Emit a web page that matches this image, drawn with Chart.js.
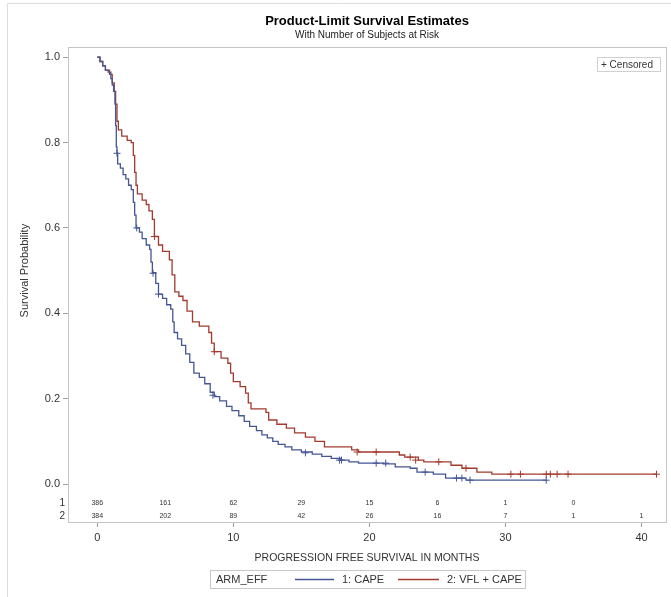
<!DOCTYPE html>
<html>
<head>
<meta charset="utf-8">
<script src="https://cdn.jsdelivr.net/npm/chart.js@4.4.1/dist/chart.umd.min.js"></script>
<style>
    html, body { margin: 0; padding: 0; background: #ffffff; }
    #chart { display: block; }
</style>
</head>
<body>
<canvas id="chart" width="671" height="597"></canvas>
<script>

// Kaplan-Meier Steps [months, survival]
const capeSteps = [
    [0, 1.0], [0.2, 0.99], [0.4, 0.98], [0.6, 0.97], [0.8, 0.965], [1.0, 0.95], [1.1, 0.935], [1.2, 0.92],
    [1.3, 0.89], [1.35, 0.84], [1.4, 0.79], [1.45, 0.775], [1.5, 0.75], [1.7, 0.74], [1.9, 0.725], [2.1, 0.715],
    [2.3, 0.70], [2.5, 0.69], [2.65, 0.66], [2.75, 0.63], [2.85, 0.60], [3.1, 0.59], [3.3, 0.575], [3.6, 0.56],
    [3.85, 0.55], [3.95, 0.52], [4.05, 0.495], [4.3, 0.47], [4.5, 0.445], [4.8, 0.435], [5.1, 0.42], [5.4, 0.41],
    [5.55, 0.38], [5.65, 0.355], [5.9, 0.34], [6.2, 0.325], [6.5, 0.305], [6.8, 0.285], [7.1, 0.26], [7.5, 0.25],
    [7.9, 0.235], [8.3, 0.215], [8.6, 0.205], [9.0, 0.195], [9.5, 0.182], [9.9, 0.172], [10.4, 0.16], [10.8, 0.147],
    [11.2, 0.135], [11.7, 0.125], [12.1, 0.115], [12.5, 0.108], [12.9, 0.10], [13.3, 0.093], [13.8, 0.087], [14.3, 0.08],
    [15.0, 0.075], [15.8, 0.07], [16.5, 0.065], [17.2, 0.06], [17.9, 0.056], [18.5, 0.052], [19.2, 0.049], [21.0, 0.047],
    [21.9, 0.04], [23.0, 0.037], [23.5, 0.028], [24.7, 0.023], [25.6, 0.014], [27.1, 0.009], [33.0, 0.009]
];

const vflSteps = [
    [0, 1.0], [0.2, 0.99], [0.4, 0.98], [0.6, 0.97], [0.9, 0.96], [1.1, 0.94], [1.25, 0.92], [1.35, 0.89],
    [1.45, 0.85], [1.55, 0.83], [1.8, 0.815], [2.2, 0.805], [2.5, 0.80], [2.65, 0.77], [2.75, 0.73], [2.85, 0.70],
    [2.95, 0.68], [3.3, 0.665], [3.6, 0.655], [3.8, 0.64], [4.05, 0.62], [4.2, 0.58], [4.5, 0.56], [4.8, 0.545],
    [5.3, 0.525], [5.5, 0.49], [5.7, 0.45], [6.0, 0.44], [6.3, 0.43], [6.6, 0.405], [7.0, 0.38], [7.5, 0.37],
    [8.2, 0.355], [8.4, 0.33], [8.6, 0.31], [9.1, 0.295], [9.6, 0.283], [9.8, 0.26], [10.0, 0.24], [10.5, 0.228],
    [10.9, 0.213], [11.1, 0.19], [11.3, 0.176], [12.4, 0.168], [12.6, 0.15], [13.2, 0.14], [13.9, 0.131], [14.5, 0.12],
    [15.3, 0.11], [16.0, 0.10], [16.7, 0.087], [18.7, 0.08], [19.2, 0.075], [22.2, 0.068], [22.6, 0.063], [23.6, 0.056],
    [24.0, 0.052], [26.0, 0.044], [26.8, 0.037], [27.9, 0.028], [29.0, 0.023], [41.1, 0.023]
];

// Censored Marks [months, survival]
const capeCensored = [
    [1.45, 0.775], [2.9, 0.60], [4.1, 0.494], [4.5, 0.445], [8.5, 0.208], [15.3, 0.073], [17.8, 0.056],
    [17.95, 0.056], [20.5, 0.049], [21.2, 0.049], [24.1, 0.028], [26.4, 0.014], [26.8, 0.014], [27.4, 0.009], [33.0, 0.009]
];

const vflCensored = [
    [4.2, 0.58], [8.6, 0.31], [19.1, 0.075], [20.5, 0.075], [23.0, 0.063], [23.4, 0.056], [25.1, 0.052],
    [27.1, 0.037], [30.4, 0.023], [31.1, 0.023], [33.0, 0.023], [33.3, 0.023], [33.8, 0.023], [34.6, 0.023], [41.1, 0.023]
];

// Subjects At Risk
const atRiskTimes = [0, 5, 10, 15, 20, 25, 30, 35, 40];
const atRiskCape = [386, 161, 62, 29, 15, 6, 1, 0, null];
const atRiskVfl = [384, 202, 89, 42, 26, 16, 7, 1, 1];

// Ticks And Labels
const xTicks = [0, 10, 20, 30, 40];
const yTicks = [0, 0.2, 0.4, 0.6, 0.8, 1.0];
const groupLabels = ['1: CAPE', '2: VFL + CAPE'];
const groupColors = ['#445694', '#A23A2E'];

// Font
const fontFamily = '"Liberation Sans", Arial, Helvetica, sans-serif';

// To Points
const toPoints = function (list) {
    return list.map(function (item) { return { x: item[0], y: item[1] }; });
};

// Decoration Plugin
const kmDecor = {
    id: 'kmDecor',

    beforeDatasetsDraw: function (chart) {
        const ctx = chart.ctx;
        const area = chart.chartArea;
        ctx.save();

        // Outer Frame
        ctx.strokeStyle = '#dcdcdc';
        ctx.lineWidth = 1;
        ctx.beginPath();
        ctx.moveTo(7.5, 597);
        ctx.lineTo(7.5, 3.5);
        ctx.lineTo(671, 3.5);
        ctx.stroke();

        // Plot Frame
        ctx.strokeStyle = '#c4c4c4';
        ctx.strokeRect(Math.round(area.left) + 0.5, Math.round(area.top) + 0.5,
            Math.round(area.right - area.left), Math.round(area.bottom - area.top));
        ctx.restore();
    },

    afterDraw: function (chart) {
        const ctx = chart.ctx;
        const area = chart.chartArea;
        const x = chart.scales.x;
        const y = chart.scales.y;
        const midX = (area.left + area.right) / 2;
        ctx.save();

        // Titles
        ctx.fillStyle = '#000000';
        ctx.textAlign = 'center';
        ctx.textBaseline = 'middle';
        ctx.font = 'bold 13px ' + fontFamily;
        ctx.fillText('Product-Limit Survival Estimates', midX, 21);
        ctx.font = '10px ' + fontFamily;
        ctx.fillStyle = '#222222';
        ctx.fillText('With Number of Subjects at Risk', midX, 35);

        // Y Title
        ctx.save();
        ctx.translate(25, y.getPixelForValue(0.5));
        ctx.rotate(-Math.PI / 2);
        ctx.font = '11px ' + fontFamily;
        ctx.fillStyle = '#333333';
        ctx.fillText('Survival Probability', 0, 0);
        ctx.restore();

        // At Risk Table
        const rows = [atRiskCape, atRiskVfl];
        const rowY = [y.getPixelForValue(-0.0445), y.getPixelForValue(-0.075)];
        for (let r = 0; r < rows.length; r++) {
            ctx.font = '10px ' + fontFamily;
            ctx.fillStyle = '#333333';
            ctx.textAlign = 'right';
            ctx.fillText(String(r + 1), area.left - 3, rowY[r]);
            ctx.font = '7px ' + fontFamily;
            ctx.textAlign = 'center';
            for (let i = 0; i < atRiskTimes.length; i++) {
                if (rows[r][i] === null) { continue; }
                ctx.fillText(String(rows[r][i]), x.getPixelForValue(atRiskTimes[i]), rowY[r]);
            }
        }

        // Censored Box
        ctx.strokeStyle = '#d0d0d0';
        ctx.strokeRect(597.5, 57.5, 63, 14);
        ctx.font = '10px ' + fontFamily;
        ctx.fillStyle = '#333333';
        ctx.textAlign = 'left';
        ctx.fillText('+ Censored', 601, 65);

        // Legend
        ctx.strokeStyle = '#c8c8c8';
        ctx.strokeRect(210.5, 570.5, 315, 18);
        ctx.font = '11px ' + fontFamily;
        ctx.fillText('ARM_EFF', 216, 580);
        const legendLine = [[295, 334, 342], [398, 439, 447]];
        for (let i = 0; i < legendLine.length; i++) {
            ctx.strokeStyle = groupColors[i];
            ctx.lineWidth = 1.3;
            ctx.beginPath();
            ctx.moveTo(legendLine[i][0], 579.5);
            ctx.lineTo(legendLine[i][1], 579.5);
            ctx.stroke();
            ctx.fillText(groupLabels[i], legendLine[i][2], 580);
        }

        ctx.restore();
    }
};

// Create Chart
const ctx = document.getElementById('chart').getContext('2d');
const chart = new Chart(ctx, {
    type: 'scatter',
    data: {
        datasets: [

            // CAPE Curve
            {
                label: groupLabels[0],
                data: toPoints(capeSteps),
                showLine: true,
                stepped: 'before',
                borderColor: groupColors[0],
                borderWidth: 1.3,
                pointRadius: 0
            },

            // VFL + CAPE Curve
            {
                label: groupLabels[1],
                data: toPoints(vflSteps),
                showLine: true,
                stepped: 'before',
                borderColor: groupColors[1],
                borderWidth: 1.3,
                pointRadius: 0
            },

            // CAPE Censored
            {
                label: 'Censored 1',
                data: toPoints(capeCensored),
                pointStyle: 'cross',
                pointRadius: 3.5,
                pointBorderWidth: 1,
                borderColor: groupColors[0],
                backgroundColor: groupColors[0]
            },

            // VFL + CAPE Censored
            {
                label: 'Censored 2',
                data: toPoints(vflCensored),
                pointStyle: 'cross',
                pointRadius: 3.5,
                pointBorderWidth: 1,
                borderColor: groupColors[1],
                backgroundColor: groupColors[1]
            }
        ]
    },
    options: {
        responsive: false,
        animation: false,
        devicePixelRatio: 1,
        layout: { padding: { left: 0, right: 3.5, top: 47, bottom: 0 } },
        plugins: {
            legend: { display: false },
            tooltip: { enabled: false }
        },
        scales: {
            x: {
                type: 'linear',
                min: -2.15,
                max: 41.8,
                afterBuildTicks: function (scale) { scale.ticks = xTicks.map(function (v) { return { value: v }; }); },
                afterFit: function (scale) { scale.height = 75; },
                grid: { drawOnChartArea: false, drawTicks: true, tickLength: 5, color: '#a0a0a0' },
                border: { display: false },
                ticks: { padding: 4, color: '#333333', font: { family: fontFamily, size: 11 } },
                title: {
                    display: true,
                    text: 'PROGRESSION FREE SURVIVAL IN MONTHS',
                    color: '#333333',
                    font: { family: fontFamily, size: 10.5 },
                    padding: { top: 0, bottom: 32.7 }
                }
            },
            y: {
                type: 'linear',
                min: -0.089,
                max: 1.024,
                afterBuildTicks: function (scale) { scale.ticks = yTicks.map(function (v) { return { value: v }; }); },
                afterFit: function (scale) { scale.width = 68; },
                grid: { drawOnChartArea: false, drawTicks: true, tickLength: 5, color: '#a0a0a0' },
                border: { display: false },
                ticks: {
                    padding: 3,
                    color: '#333333',
                    font: { family: fontFamily, size: 11 },
                    callback: function (value) { return Number(value).toFixed(1); }
                }
            }
        }
    },
    plugins: [kmDecor]
});

</script>
</body>
</html>
